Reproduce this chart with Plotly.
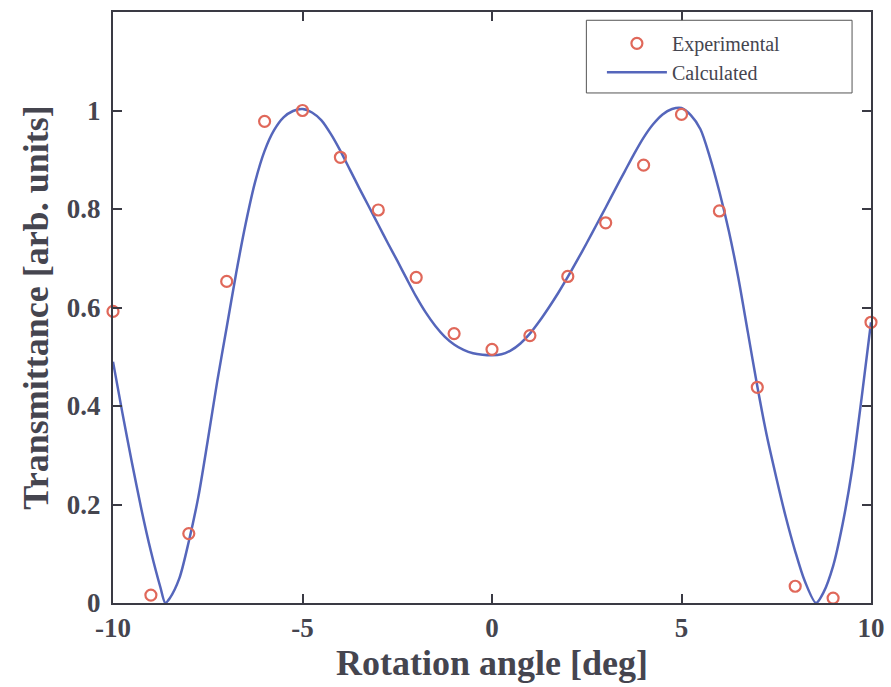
import plotly.graph_objects as go

# Experimental data
exp_x = list(range(-10, 11))
exp_y = [0.592, 0.016, 0.141, 0.653, 0.978, 1.0, 0.905, 0.798, 0.661, 0.547, 0.515,
         0.543, 0.663, 0.772, 0.889, 0.992, 0.796, 0.438, 0.034, 0.010, 0.570]

# Calculated curve
calc_x = [-10, -9.75, -9.5, -9.25, -9.0, -8.75, -8.62, -8.5, -8.25, -8.0, -7.75, -7.5, -7.25,
          -7.0, -6.75, -6.5, -6.25, -6.0, -5.75, -5.5, -5.25, -5.0, -4.75, -4.5, -4.25,
          -4.0, -3.75, -3.5, -3.25, -3.0, -2.75, -2.5, -2.25, -2.0, -1.75, -1.5, -1.25,
          -1.0, -0.75, -0.5, -0.25, 0.0, 0.25, 0.5, 0.75, 1.0, 1.25, 1.5, 1.75, 2.0,
          2.25, 2.5, 2.75, 3.0, 3.25, 3.5, 3.75, 4.0, 4.25, 4.5, 4.75, 5.0, 5.25, 5.5,
          5.75, 6.0, 6.25, 6.5, 6.75, 7.0, 7.25, 7.5, 7.75, 8.0, 8.25, 8.55, 8.75, 9.0,
          9.25, 9.5, 9.75, 10.0]
calc_y = [0.49, 0.385, 0.285, 0.19, 0.105, 0.032, 0.0, 0.01, 0.05, 0.125, 0.215, 0.33, 0.45,
          0.56, 0.67, 0.77, 0.855, 0.918, 0.96, 0.986, 0.999, 1.003, 0.996, 0.98, 0.952,
          0.918, 0.88, 0.842, 0.805, 0.768, 0.731, 0.695, 0.658, 0.622, 0.59, 0.563, 0.541,
          0.525, 0.514, 0.507, 0.504, 0.503, 0.505, 0.513, 0.527, 0.547, 0.572, 0.60,
          0.63, 0.662, 0.696, 0.731, 0.767, 0.803, 0.84, 0.876, 0.912, 0.945, 0.972, 0.992,
          1.003, 1.005, 0.99, 0.962, 0.905, 0.835, 0.755, 0.66, 0.55, 0.44, 0.34, 0.255,
          0.175, 0.105, 0.045, 0.0, 0.022, 0.075, 0.16, 0.27, 0.415, 0.57]

x_ticks = [-10, -5, 0, 5, 10]
x_ticktext = ["-10", "-5", "0", "5", "10"]
y_ticks = [0, 0.2, 0.4, 0.6, 0.8, 1]
y_ticktext = ["0", "0.2", "0.4", "0.6", "0.8", "1"]

TXT = "#45454f"
FONT = "Liberation Serif"

fig = go.Figure()
fig.add_trace(go.Scatter(
    x=calc_x, y=calc_y, mode="lines", name="Calculated",
    line=dict(color="#5566bb", width=2.5, shape="spline", smoothing=0.8),
    legendrank=2,
))
fig.add_trace(go.Scatter(
    x=exp_x, y=exp_y, mode="markers", name="Experimental",
    marker=dict(symbol="circle-open", size=11, color="#e0685a", line=dict(width=2.2, color="#e0685a")),
    cliponaxis=False, legendrank=1,
))

axis_common = dict(
    showline=True, linecolor="#3a3a44", linewidth=2, mirror="ticks",
    ticks="inside", ticklen=9, tickwidth=2, tickcolor="#3a3a44",
    showgrid=False, zeroline=False, automargin=False,
    tickfont=dict(family=FONT, size=27, color=TXT, weight="bold"),
)

fig.update_layout(
    width=891, height=687,
    margin=dict(l=113, r=20, t=12, b=84),
    paper_bgcolor="white", plot_bgcolor="white",
    font=dict(family=FONT, color=TXT),
    xaxis=dict(range=[-10, 10], tickvals=x_ticks, ticktext=x_ticktext, ticklabelstandoff=0,
               title=dict(text="Rotation angle [deg]",
                          font=dict(family=FONT, size=36, color=TXT, weight="bold"), standoff=3),
               **axis_common),
    yaxis=dict(range=[0, 1.2], tickvals=y_ticks, ticktext=y_ticktext, ticklabelstandoff=5,
               title=dict(text="Transmittance [arb. units]",
                          font=dict(family=FONT, size=36, color=TXT, weight="bold"), standoff=7),
               **axis_common),
    legend=dict(
        x=0.645, y=0.98, xanchor="left", yanchor="top",
        bgcolor="rgba(0,0,0,0)", borderwidth=0,
        font=dict(family=FONT, size=20, color=TXT),
        itemwidth=60, tracegroupgap=0, traceorder="normal",
    ),
    shapes=[dict(type="rect", xref="paper", yref="paper",
                 x0=0.6245, x1=0.975, y0=0.863, y1=0.986,
                 line=dict(color="#555", width=1), fillcolor="white", layer="above")],
)

fig.write_html("out.html")
